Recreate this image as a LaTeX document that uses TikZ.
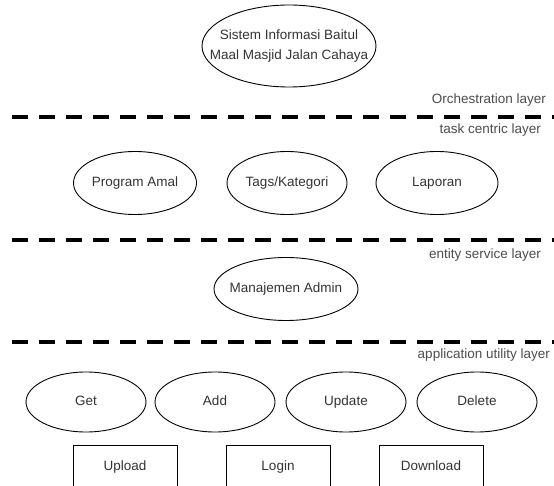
\documentclass[tikz,border=0pt]{standalone}
\usepackage{fontspec}
\setmainfont{Liberation Sans}
\usetikzlibrary{shapes.geometric}

\tikzset{
  txt/.style={font=\fontsize{13.5}{20}\selectfont, text=black!80},
  % negative separation keeps the ellipse at its minimum size
  svc/.style={draw, ellipse, line width=0.9pt, inner xsep=-32pt, inner ysep=-12pt,
              align=center, txt},
  one/.style={text height=9.5pt, text depth=2.5pt},
  util/.style={draw, rectangle, line width=0.9pt, inner sep=0pt,
               minimum width=104pt, minimum height=50pt, anchor=north},
  layerline/.style={line width=4pt, dash pattern=on 16pt off 11pt},
  layerlabel/.style={anchor=east, inner sep=0pt, txt, text=black!70, one},
}

\begin{document}
\begin{tikzpicture}[x=1pt, y=-1pt]
  \useasboundingbox (0,0) rectangle (554,486);
  \clip (0,0) rectangle (554,486);

  % top service
  \node[svc, minimum width=174pt, minimum height=82pt] (sys) at (289,46)
    {Sistem Informasi Baitul\\Maal Masjid Jalan Cahaya};

  % layer boundaries
  \coordinate (l1a) at (12,117);  \coordinate (l1b) at (554,117);
  \coordinate (l2a) at (12,240);  \coordinate (l2b) at (554,240);
  \coordinate (l3a) at (12,342);  \coordinate (l3b) at (554,342);
  \draw[layerline] (l1a) -- (l1b);
  \draw[layerline] (l2a) -- (l2b);
  \draw[layerline] (l3a) -- (l3b);

  \node[layerlabel] (orch) at (546,100) {Orchestration layer};
  \node[layerlabel] (task) at (541,130) {task centric layer};
  \node[layerlabel] (ent)  at (541,255) {entity service layer};
  \node[layerlabel] (app)  at (550,355) {application utility layer};

  % task centric services
  \node[svc, one, minimum width=123pt, minimum height=63pt] (amal) at (135,183) {Program Amal};
  \node[svc, one, minimum width=120pt, minimum height=63pt] (tags) at (287,183) {Tags/Kategori};
  \node[svc, one, minimum width=122pt, minimum height=63pt] (lap)  at (437,183) {Laporan};

  % entity service
  \node[svc, one, minimum width=144pt, minimum height=63pt] (admin) at (286,289) {Manajemen Admin};

  % utility services
  \node[svc, one, minimum width=120pt, minimum height=60pt] (get) at (86,402)  {Get};
  \node[svc, one, minimum width=120pt, minimum height=60pt] (add) at (215,402) {Add};
  \node[svc, one, minimum width=120pt, minimum height=60pt] (upd) at (346,402) {Update};
  \node[svc, one, minimum width=120pt, minimum height=60pt] (del) at (477,402) {Delete};

  \node[util] (upl) at (125,445) {};
  \node[util] (log) at (278,445) {};
  \node[util] (dwn) at (431,445) {};
  \node[txt, one] (uplt) at (125,467) {Upload};
  \node[txt, one] (logt) at (278,467) {Login};
  \node[txt, one] (dwnt) at (431,467) {Download};
\end{tikzpicture}
\end{document}
